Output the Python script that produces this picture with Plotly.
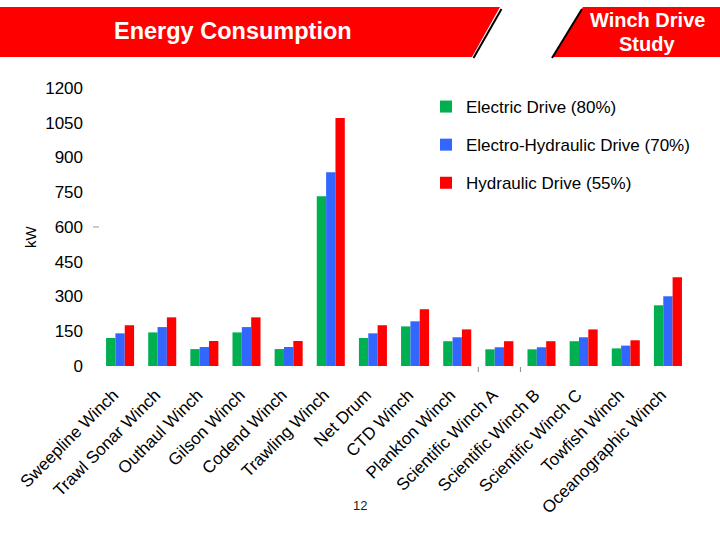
import plotly.graph_objects as go

categories = ["Sweepline Winch", "Trawl Sonar Winch", "Outhaul Winch", "Gilson Winch",
              "Codend Winch", "Trawling Winch", "Net Drum", "CTD Winch", "Plankton Winch",
              "Scientific Winch A", "Scientific Winch B", "Scientific Winch C",
              "Towfish Winch", "Oceanographic Winch"]
electric = [121, 145, 73, 145, 73, 733, 121, 171, 107, 72, 72, 107, 76, 262]
electro_hydraulic = [141, 168, 82, 168, 82, 836, 141, 193, 124, 81, 81, 124, 88, 301]
hydraulic = [176, 210, 108, 210, 108, 1070, 176, 245, 158, 107, 107, 158, 111, 383]
series_names = ["Electric Drive (80%)", "Electro-Hydraulic Drive (70%)", "Hydraulic Drive (55%)"]
series_colors = ["#00B050", "#3366FF", "#FF0000"]
y_ticks = [0, 150, 300, 450, 600, 750, 900, 1050, 1200]

W, H = 720, 540
L, R, T, B = 99, 31, 88, 174
PW, PH = W - L - R, H - T - B

def px(x):
    return (x - L) / PW

def py(y):
    return (H - B - y) / PH

FONT = "Liberation Sans, Arial, sans-serif"

fig = go.Figure()
for i, (name, vals, col) in enumerate(zip(series_names, [electric, electro_hydraulic, hydraulic], series_colors)):
    fig.add_trace(go.Bar(x=categories, y=vals, name=name, marker_color=col,
                         marker_line_width=0, legendgroup=f"g{i}"))

shapes = []
# header bands
shapes.append(dict(type="path", xref="paper", yref="paper", layer="above",
                   path=f"M{px(0)},{py(7)} L{px(500)},{py(7)} L{px(472)},{py(57)} L{px(0)},{py(57)} Z",
                   fillcolor="#FF0000", line=dict(width=0)))
shapes.append(dict(type="line", xref="paper", yref="paper", layer="above",
                   x0=px(501.5), y0=py(9), x1=px(473.5), y1=py(58),
                   line=dict(color="black", width=2)))
shapes.append(dict(type="path", xref="paper", yref="paper", layer="above",
                   path=f"M{px(583)},{py(7)} L{px(720)},{py(7)} L{px(720)},{py(57)} L{px(553)},{py(57)} Z",
                   fillcolor="#FF0000", line=dict(width=0)))
shapes.append(dict(type="line", xref="paper", yref="paper", layer="above",
                   x0=px(582), y0=py(9), x1=px(552), y1=py(58),
                   line=dict(color="black", width=2)))
# small grey dash at 600
shapes.append(dict(type="line", xref="paper", yref="y", x0=px(93), x1=px(99), y0=600, y1=600,
                   line=dict(color="#999999", width=1)))
# two stray category tick marks
for xb in [8.5, 9.5]:
    shapes.append(dict(type="line", xref="x", yref="paper", x0=xb, x1=xb, y0=py(367), y1=py(372),
                       line=dict(color="#888888", width=1)))

annotations = [
    dict(text="<b>Energy Consumption</b>", xref="paper", yref="paper", x=px(233), y=py(31),
         showarrow=False, font=dict(family=FONT, size=23.5, color="white"), xanchor="center", yanchor="middle"),
    dict(text="<b>Winch Drive</b>", xref="paper", yref="paper", x=px(647), y=py(20),
         showarrow=False, font=dict(family=FONT, size=20, color="white"), xanchor="center", yanchor="middle"),
    dict(text="<b>Study</b>", xref="paper", yref="paper", x=px(647), y=py(44),
         showarrow=False, font=dict(family=FONT, size=20, color="white"), xanchor="center", yanchor="middle"),
    dict(text="kW", xref="paper", yref="paper", x=px(30), y=py(237), textangle=-90,
         showarrow=False, font=dict(family=FONT, size=15, color="black"), xanchor="center", yanchor="middle"),
    dict(text="12", xref="paper", yref="paper", x=px(360), y=py(505),
         showarrow=False, font=dict(family=FONT, size=13, color="#222222"), xanchor="center", yanchor="middle"),
]

fig.update_layout(
    width=W, height=H, autosize=False,
    margin=dict(l=L, r=R, t=T, b=B, pad=0),
    paper_bgcolor="white", plot_bgcolor="white",
    barmode="group", bargap=0.335, bargroupgap=0,
    font=dict(family=FONT, size=16, color="black"),
    showlegend=True,
    legend=dict(x=px(426), y=py(89), xanchor="left", yanchor="top",
                bgcolor="rgba(0,0,0,0)", font=dict(family=FONT, size=17, color="black"),
                tracegroupgap=13, traceorder="grouped"),
    xaxis=dict(tickangle=-45, showgrid=False, showline=False, zeroline=False, ticks="",
               ticklabelstandoff=8, tickvals=categories,
               ticktext=[c + "\u00a0\u00a0" for c in categories],
               tickfont=dict(family=FONT, size=17, color="black"), range=[-0.5, 13.5]),
    yaxis=dict(range=[0, 1200], tickvals=y_ticks, showgrid=False, showline=False, zeroline=False,
               ticks="", ticklabelstandoff=15, tickfont=dict(family=FONT, size=17, color="black")),
    shapes=shapes, annotations=annotations,
)

fig.write_html("out.html", config={"displayModeBar": False},
               post_script="document.body.style.margin='0px';")
